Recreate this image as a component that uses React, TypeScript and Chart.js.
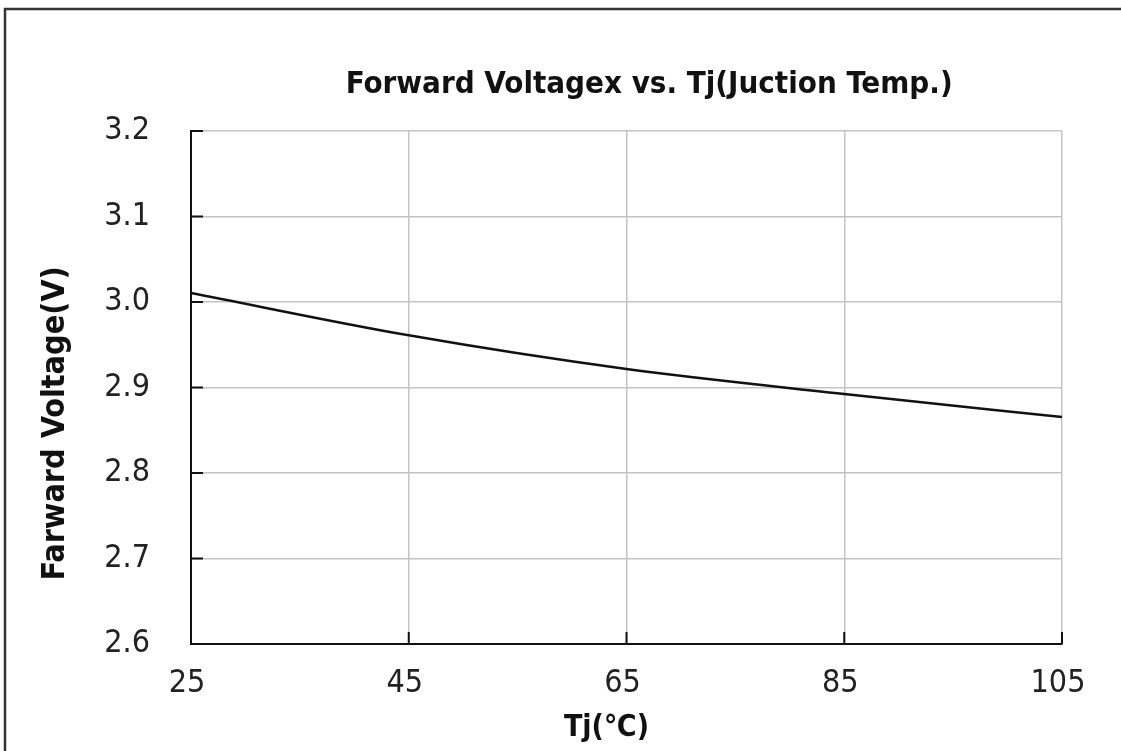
import React, { useEffect, useRef } from "react";
import { Chart, registerables } from "chart.js";

Chart.register(...registerables);

const TEMPS = [25, 45, 65, 85, 105];
const VF = [3.0105, 2.961, 2.9216, 2.8924, 2.8655];
const Y_MIN = 2.6;
const Y_MAX = 3.2;
const Y_STEP = 0.1;
const X_MIN = 25;
const X_MAX = 105;
const X_STEP = 20;

const TITLE = "Forward Voltagex vs. Tj(Juction Temp.)";
const Y_TITLE = "Farward Voltage(V)";
const X_TITLE = "Tj(\u2103)";

const NARROW = "'Liberation Sans Narrow', 'DejaVu Sans Condensed', 'Liberation Sans', Arial, sans-serif";

const decorPlugin = {
  id: "decor",
  beforeDraw(chart: any) {
    const ctx = chart.ctx;
    ctx.save();
    ctx.strokeStyle = "#333";
    ctx.lineWidth = 2.5;
    ctx.beginPath();
    ctx.moveTo(5, chart.height);
    ctx.lineTo(5, 9);
    ctx.lineTo(chart.width, 9);
    ctx.stroke();
    ctx.restore();
  },
  afterDraw(chart: any) {
    const ctx = chart.ctx;
    const a = chart.chartArea;
    const xs = chart.scales.x;
    const ys = chart.scales.y;
    ctx.save();
    // inward ticks
    ctx.strokeStyle = "#111";
    ctx.lineWidth = 2;
    ctx.beginPath();
    ys.ticks.forEach((t: any) => {
      const y = ys.getPixelForValue(t.value);
      ctx.moveTo(a.left, y);
      ctx.lineTo(a.left + 12, y);
    });
    xs.ticks.forEach((t: any) => {
      const x = xs.getPixelForValue(t.value);
      ctx.moveTo(x, a.bottom);
      ctx.lineTo(x, a.bottom - 12);
    });
    ctx.stroke();

    const w = a.right - a.left;
    const h = a.bottom - a.top;
    ctx.fillStyle = "#111";
    ctx.textAlign = "center";
    ctx.textBaseline = "middle";
    ctx.font = "bold 31px " + NARROW;
    ctx.fillText(TITLE, a.left + 0.526 * w, a.top - 46);

    ctx.font = "bold 30px " + NARROW;
    ctx.fillText(X_TITLE, a.left + 0.477 * w, a.bottom + 84);

    ctx.font = "bold 32px " + NARROW;
    ctx.translate(a.left - 135, a.top + 0.57 * h);
    ctx.rotate(-Math.PI / 2);
    ctx.fillText(Y_TITLE, 0, 0);
    ctx.restore();
  },
};

export default function App() {
  const ref = useRef<HTMLCanvasElement | null>(null);
  useEffect(() => {
    if (!ref.current) return;
    const chart = new Chart(ref.current, {
      type: "line",
      data: {
        datasets: [
          {
            data: TEMPS.map((t, i) => ({ x: t, y: VF[i] })),
            borderColor: "#111",
            borderWidth: 2.5,
            pointRadius: 0,
            tension: 0.4,
            cubicInterpolationMode: "monotone",
            fill: false,
          },
        ],
      },
      options: {
        responsive: false,
        animation: false,
        layout: { padding: { top: 131, right: 59, left: 0, bottom: 0 } },
        plugins: { legend: { display: false }, title: { display: false }, tooltip: { enabled: false } },
        scales: {
          x: {
            type: "linear",
            min: X_MIN,
            max: X_MAX,
            ticks: {
              stepSize: X_STEP,
              padding: 20,
              labelOffset: -4,
              color: "#222",
              font: { family: NARROW, size: 32 },
              maxRotation: 0,
            },
            grid: { color: "#c4c4c4", lineWidth: 1.5, drawTicks: false },
            border: { color: "#111", width: 2 },
            afterFit(s: any) {
              s.height = 107;
            },
          },
          y: {
            type: "linear",
            min: Y_MIN,
            max: Y_MAX,
            ticks: {
              stepSize: Y_STEP,
              padding: 41,
              color: "#222",
              font: { family: NARROW, size: 32 },
              callback: (v: any) => Number(v).toFixed(1),
            },
            grid: { color: "#c4c4c4", lineWidth: 1.5, drawTicks: false },
            border: { color: "#111", width: 2 },
            afterFit(s: any) {
              s.width = 191;
            },
          },
        },
      },
      plugins: [decorPlugin],
    } as any);
    return () => chart.destroy();
  }, []);
  return (
    <canvas
      ref={ref}
      width={1121}
      height={751}
      style={{ position: "absolute", left: 0, top: 0, background: "#fff" }}
    />
  );
}
